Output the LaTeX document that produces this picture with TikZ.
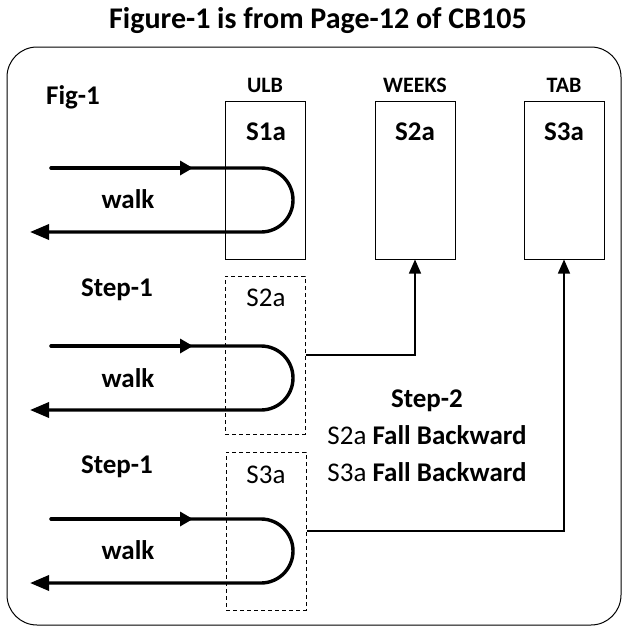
\documentclass[tikz,border=0pt]{standalone}
\usepackage{fontspec}
\setmainfont{Carlito}
\usetikzlibrary{arrows.meta, positioning}

\begin{document}
\begin{tikzpicture}[x=1pt, y=-1pt,
    every node/.style={inner sep=0pt, anchor=base},
    titletext/.style={font=\bfseries\fontsize{30}{34}\selectfont},
    bigtext/.style={font=\bfseries\fontsize{27}{30}\selectfont},
    plaintext/.style={font=\fontsize{27}{30}\selectfont},
    headtext/.style={font=\bfseries\fontsize{22}{25}\selectfont},
    slotbox/.style={draw, line width=1pt, anchor=center, minimum width=80pt, minimum height=158pt},
    stepbox/.style={slotbox, dash pattern=on 4pt off 3pt},
    walkline/.style={line width=3.4pt, line cap=round},
    linkline/.style={line width=1.3pt, -{Triangle[length=14pt,width=12pt]}}]
    \useasboundingbox (0,0) rectangle (623,630);
    % Frame
    \node[titletext] (title) at (318,28) {Figure-1 is from Page-12 of CB105};
    \draw[line width=1pt, rounded corners=30pt] (7,47) rectangle (621,625);
    \node[bigtext] (fig) at (73,104) {Fig-1};

    % Slots
    \node[slotbox] (ulb) at (265,180) {};
    \node[slotbox] (weeks) at (415,180) {};
    \node[slotbox] (tab) at (564,180) {};
    \node[headtext] (ulblabel) at (265,92) {ULB};
    \node[headtext] (weekslabel) at (415,92) {WEEKS};
    \node[headtext] (tablabel) at (564,92) {TAB};
    \node[bigtext] (s1a) at (266,140) {S1a};
    \node[bigtext] (s2a) at (415,140) {S2a};
    \node[bigtext] (s3a) at (564,140) {S3a};

    % Steps
    \node[stepbox] (s2step) at (265,355) {};
    \node[stepbox] (s3step) at (266,531) {};
    \node[plaintext] (s2steptext) at (266,306) {S2a};
    \node[plaintext] (s3steptext) at (266,483) {S3a};
    \node[bigtext] (stepa) at (117,296) {Step-1};
    \node[bigtext] (stepb) at (117,473) {Step-1};

    % Walks
    \foreach \yc/\yb in {200/208, 378/387, 551/559}
    {
        \draw[walkline, -{Triangle[length=19pt,width=15pt]}] (51,\yc-32) -- (261,\yc-32)
            arc[start angle=90, end angle=-90, radius=32pt] -- (30,\yc+32);
        \draw[walkline, -{Triangle[length=13pt,width=14pt]}] (51,\yc-32) -- (193,\yc-32);
        \node[bigtext] at (128,\yb) {walk};
    }

    % Step-2
    \node[bigtext] (steptwo) at (427,407) {Step-2};
    \node[plaintext] (fallb) at (427,444) {S2a \textbf{Fall Backward}};
    \node[plaintext] (fallc) at (427,481) {S3a \textbf{Fall Backward}};
    \draw[linkline] (s2step.east) -| (weeks.south);
    \draw[linkline] (s3step.east) -| (tab.south);
\end{tikzpicture}
\end{document}
